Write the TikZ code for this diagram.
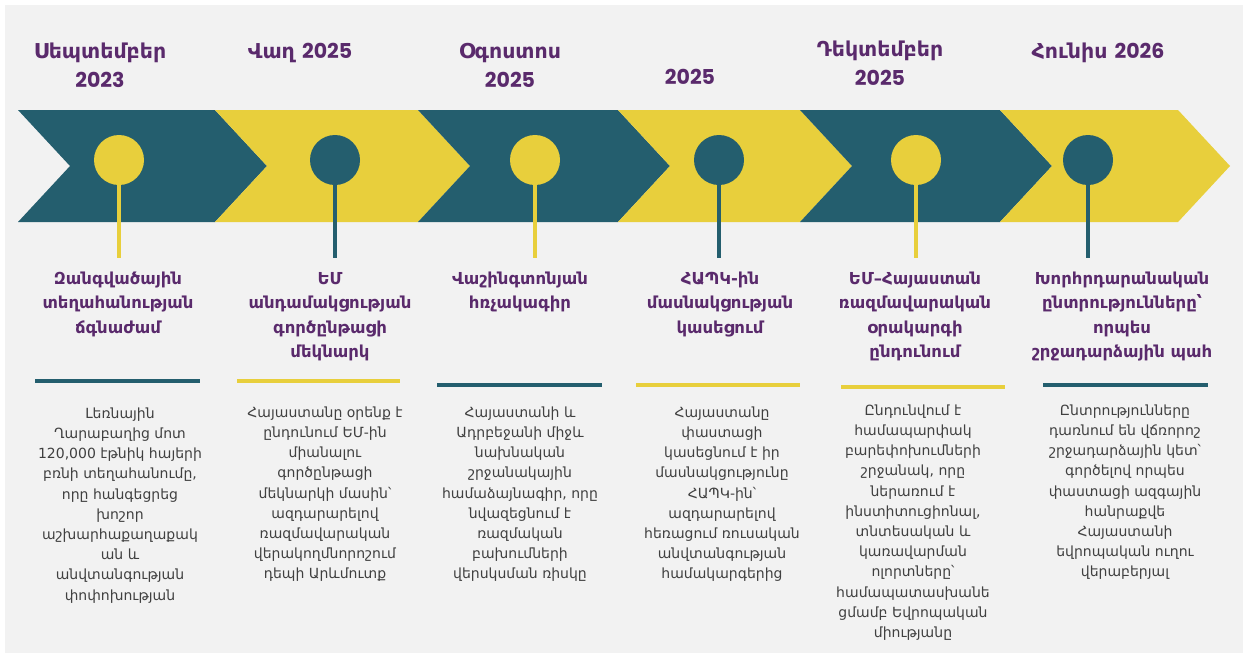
\documentclass[tikz,border=0pt]{standalone}
\usepackage{fontspec}
\setmainfont{DejaVu Sans}
\newfontfamily\popfont{Poppins}
\definecolor{teal}{HTML}{245E6E}
\definecolor{yel}{HTML}{E8CF3C}
\definecolor{purp}{HTML}{5A2A6C}
\definecolor{bg}{HTML}{F2F2F2}
\definecolor{bodygray}{HTML}{404040}
\tikzset{
  datetxt/.style={text=purp, align=center, inner sep=0pt, anchor=north, font=\fontsize{20.5}{29}\selectfont\bfseries},
  titletxt/.style={text=purp, align=center, inner sep=0pt, anchor=north, font=\fontsize{16.5}{24.5}\selectfont\bfseries},
  bodytxt/.style={text=bodygray, align=center, inner sep=0pt, anchor=north, font=\fontsize{14}{20.2}\selectfont},
  dot/.style={circle, minimum size=50pt, inner sep=0pt},
  stem/.style={line width=3.5pt},
  sep/.style={line width=4pt},
}
\newcommand{\dg}[1]{{\popfont\bfseries #1}}
\begin{document}
\begin{tikzpicture}[x=1pt,y=-1pt]
\useasboundingbox (0,0) rectangle (1247,657);
\fill[white] (0,0) rectangle (1247,657);
\fill[bg] (5,5) rectangle (1243,653);
% chevrons
\fill[teal] (18,110) -- (215,110) -- (267,166) -- (215,222) -- (18,222) -- (70,166) -- cycle;
\fill[yel]  (215,110) -- (418,110) -- (470,166) -- (418,222) -- (215,222) -- (267,166) -- cycle;
\fill[teal] (418,110) -- (618,110) -- (670,166) -- (618,222) -- (418,222) -- (470,166) -- cycle;
\fill[yel]  (618,110) -- (800,110) -- (852,166) -- (800,222) -- (618,222) -- (670,166) -- cycle;
\fill[teal] (800,110) -- (1000,110) -- (1052,166) -- (1000,222) -- (800,222) -- (852,166) -- cycle;
\fill[yel]  (1000,110) -- (1178,110) -- (1230,166) -- (1178,222) -- (1000,222) -- (1052,166) -- cycle;
% circles and stems
\coordinate (e1) at (119,258);
\coordinate (e2) at (335,258);
\coordinate (e3) at (535,258);
\coordinate (e4) at (719,258);
\coordinate (e5) at (916,258);
\coordinate (e6) at (1088,258);
\node[dot, fill=yel]  (c1) at (119,160) {};
\node[dot, fill=teal] (c2) at (335,160) {};
\node[dot, fill=yel]  (c3) at (535,160) {};
\node[dot, fill=teal] (c4) at (719,160) {};
\node[dot, fill=yel]  (c5) at (916,160) {};
\node[dot, fill=teal] (c6) at (1088,160) {};
\draw[stem, yel]  (c1.south) -- (e1);
\draw[stem, teal] (c2.south) -- (e2);
\draw[stem, yel]  (c3.south) -- (e3);
\draw[stem, teal] (c4.south) -- (e4);
\draw[stem, yel]  (c5.south) -- (e5);
\draw[stem, teal] (c6.south) -- (e6);
% dates
\node[datetxt] (d1) at (100,43) {Սեպտեմբեր\\\dg{2023}};
\node[datetxt] (d2) at (300,43) {Վաղ \dg{2025}};
\node[datetxt] (d3) at (510,43) {Օգոստոս\\\dg{2025}};
\node[datetxt] (d4) at (690,69) {\dg{2025}};
\node[datetxt] (d5) at (880,41) {Դեկտեմբեր\\\dg{2025}};
\node[datetxt] (d6) at (1098,43) {Հունիս \dg{2026}};
% titles
\node[titletxt] (t1) at (118,267) {\strut Զանգվածային\\տեղահանության\\ճգնաժամ};
\node[titletxt] (t2) at (330,267) {\strut ԵՄ\\անդամակցության\\գործընթացի\\մեկնարկ};
\node[titletxt] (t3) at (520,267) {\strut Վաշինգտոնյան\\հռչակագիր};
\node[titletxt] (t4) at (720,267) {\strut ՀԱՊԿ-ին\\մասնակցության\\կասեցում};
\node[titletxt] (t5) at (915,267) {\strut ԵՄ–Հայաստան\\ռազմավարական\\օրակարգի\\ընդունում};
\node[titletxt] (t6) at (1122,267) {\strut Խորհրդարանական\\ընտրությունները՝\\որպես\\շրջադարձային պահ};
% separators
\coordinate (s1a) at (35,381);  \coordinate (s1b) at (200,381);
\coordinate (s2a) at (237,381); \coordinate (s2b) at (400,381);
\coordinate (s3a) at (437,385); \coordinate (s3b) at (602,385);
\coordinate (s4a) at (636,385); \coordinate (s4b) at (800,385);
\coordinate (s5a) at (841,387); \coordinate (s5b) at (1005,387);
\coordinate (s6a) at (1043,385); \coordinate (s6b) at (1208,385);
\draw[sep, teal] (s1a) -- (s1b);
\draw[sep, yel]  (s2a) -- (s2b);
\draw[sep, teal] (s3a) -- (s3b);
\draw[sep, yel]  (s4a) -- (s4b);
\draw[sep, yel]  (s5a) -- (s5b);
\draw[sep, teal] (s6a) -- (s6b);
% bodies
\node[bodytxt] (b1) at (120,404) {\strut Լեռնային\\Ղարաբաղից մոտ\\120,000 էթնիկ հայերի\\բռնի տեղահանումը,\\որը հանգեցրեց\\խոշոր\\աշխարհաքաղաքակ\\ան և\\անվտանգության\\փոփոխության};
\node[bodytxt] (b2) at (325,403) {\strut Հայաստանը օրենք է\\ընդունում ԵՄ-ին\\միանալու\\գործընթացի\\մեկնարկի մասին՝\\ազդարարելով\\ռազմավարական\\վերակողմնորոշում\\դեպի Արևմուտք};
\node[bodytxt] (b3) at (520,403) {\strut Հայաստանի և\\Ադրբեջանի միջև\\նախնական\\շրջանակային\\համաձայնագիր, որը\\նվազեցնում է\\ռազմական\\բախումների\\վերսկսման ռիսկը};
\node[bodytxt] (b4) at (722,403) {\strut Հայաստանը\\փաստացի\\կասեցնում է իր\\մասնակցությունը\\ՀԱՊԿ-ին՝\\ազդարարելով\\հեռացում ռուսական\\անվտանգության\\համակարգերից};
\node[bodytxt] (b5) at (913,401) {\strut Ընդունվում է\\համապարփակ\\բարեփոխումների\\շրջանակ, որը\\ներառում է\\ինստիտուցիոնալ,\\տնտեսական և\\կառավարման\\ոլորտները՝\\համապատասխանե\\ցմամբ Եվրոպական\\միությանը};
\node[bodytxt] (b6) at (1125,401) {\strut Ընտրությունները\\դառնում են վճռորոշ\\շրջադարձային կետ՝\\գործելով որպես\\փաստացի ազգային\\հանրաքվե\\Հայաստանի\\եվրոպական ուղու\\վերաբերյալ};
\end{tikzpicture}
\end{document}
